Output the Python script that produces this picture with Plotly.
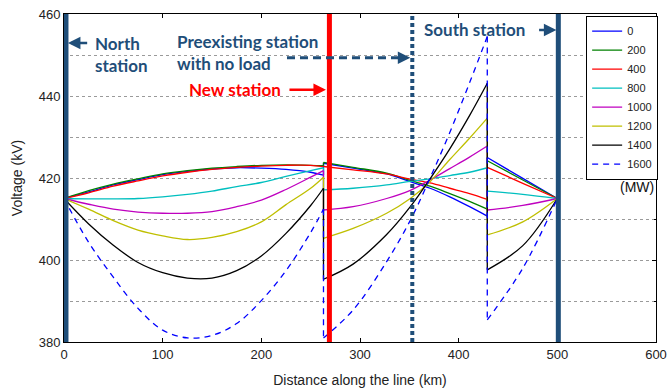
import plotly.graph_objects as go

# ---------------- data ----------------
SERIES_NAMES = ["0", "200", "400", "800", "1000", "1200", "1400", "1600"]

SEG1_KM = [0, 25, 50, 75, 100, 125, 150, 175, 200, 225, 250, 263]
SEG2_KM = [263, 293, 327, 351, 371, 391, 411, 429]
SEG3_KM = [429, 465, 500]

seg1_0 = [415, 416.6, 418.3, 419.6, 420.8, 421.6, 422.2, 422.5, 422.4, 422.1, 421.4, 420.7]
seg1_200 = [415, 416.9, 418.5, 419.8, 421.0, 421.8, 422.4, 422.8, 423.1, 423.2, 423.1, 423.0]
seg1_400 = [415, 416.4, 418.0, 419.3, 420.5, 421.4, 422.1, 422.6, 422.9, 423.1, 423.1, 422.8]
seg1_800 = [415, 414.9, 414.9, 415.0, 415.4, 416.0, 416.8, 417.9, 418.9, 420.4, 421.8, 422.5]
seg1_1000 = [415, 413.6, 412.4, 411.7, 411.4, 411.4, 411.8, 413.0, 414.6, 417.2, 420.2, 421.8]
seg1_1200 = [415, 412.4, 409.6, 407.3, 405.9, 405.0, 405.5, 406.9, 409.3, 413.5, 417.5, 420.2]
seg1_1400 = [415, 408.8, 403.6, 399.4, 396.9, 395.6, 395.6, 397.4, 401.0, 406.5, 413.3, 417.5]
seg1_1600 = [415, 404.3, 395.8, 388.2, 382.9, 381.0, 381.6, 384.5, 390.1, 397.4, 406.7, 412.4]

seg2_0 = [423.6, 422.4, 421.0, 419.1, 417.5, 415.4, 413.0, 410.7]
seg2_200 = [423.8, 422.6, 421.2, 419.4, 418.0, 416.2, 414.3, 412.4]
seg2_400 = [422.8, 422.0, 421.0, 419.7, 418.8, 417.5, 416.2, 414.8]
seg2_800 = [417.1, 417.5, 418.3, 419.2, 419.8, 420.6, 421.4, 422.5]
seg2_1000 = [412.2, 413.0, 415.0, 417.0, 419.5, 422.3, 425.1, 427.8]
seg2_1200 = [405.3, 407.7, 411.4, 415.0, 419.1, 424.5, 429.7, 434.6]
seg2_1400 = [395.3, 399.0, 406.2, 413.0, 419.8, 427.1, 435.2, 443.1]
seg2_1600 = [381.0, 387.8, 399.6, 409.7, 420.0, 431.1, 443.2, 454.5]

seg3_0 = [425.0, 419.9, 415]
seg3_200 = [424.2, 419.5, 415]
seg3_400 = [422.6, 418.7, 415]
seg3_800 = [416.8, 416.0, 415]
seg3_1000 = [412.2, 413.3, 415]
seg3_1200 = [406.1, 409.3, 415]
seg3_1400 = [397.6, 403.5, 415]
seg3_1600 = [385.4, 398.0, 415]

SEG1 = [seg1_0, seg1_200, seg1_400, seg1_800, seg1_1000, seg1_1200, seg1_1400, seg1_1600]
SEG2 = [seg2_0, seg2_200, seg2_400, seg2_800, seg2_1000, seg2_1200, seg2_1400, seg2_1600]
SEG3 = [seg3_0, seg3_200, seg3_400, seg3_800, seg3_1000, seg3_1200, seg3_1400, seg3_1600]

NORTH_KM = 2
NEW_KM = 269
PREEXIST_KM = 353
SOUTH_KM = 501

# ---------------- styles ----------------
COLORS = ["#0000ff", "#008000", "#ff0000", "#00bfbf", "#bf00bf", "#bfbf00", "#000000", "#0000ff"]
DASHES = ["solid"] * 7 + ["6px,5px"]
STATION = "#1f4e79"
FONT = "Liberation Sans, Arial, sans-serif"
AFONT = "Lato, Open Sans, sans-serif"

fig = go.Figure()

for i, name in enumerate(SERIES_NAMES):
    xs = SEG1_KM + [None] + SEG2_KM + [None] + SEG3_KM
    ys = SEG1[i] + [None] + SEG2[i] + [None] + SEG3[i]
    # vertical jumps at the compensating stations
    jx = [SEG1_KM[-1], SEG2_KM[0], None, SEG2_KM[-1], SEG3_KM[0]]
    jy = [SEG1[i][-1], SEG2[i][0], None, SEG2[i][-1], SEG3[i][0]]
    fig.add_trace(go.Scatter(
        x=jx, y=jy, mode="lines", legendgroup=name, showlegend=False,
        line=dict(color=COLORS[i], width=1.3, dash=DASHES[i]), hoverinfo="skip"))
    fig.add_trace(go.Scatter(
        x=xs, y=ys, mode="lines", name=name, legendgroup=name,
        line=dict(color=COLORS[i], width=1.3, dash=DASHES[i], shape="spline"),
        connectgaps=False))

# station lines
for xk, col, w, dash in [(NORTH_KM, STATION, 5, "solid"), (SOUTH_KM, STATION, 5, "solid"),
                         (NEW_KM, "#ff0000", 5, "solid"), (PREEXIST_KM, STATION, 4, "4px,3px")]:
    fig.add_shape(type="line", xref="x", yref="paper", x0=xk, x1=xk, y0=0, y1=1,
                  line=dict(color=col, width=w, dash=dash), layer="above")

# dashed arrow for preexisting station
fig.add_shape(type="line", xref="x", yref="y", x0=226, x1=344, y0=449.3, y1=449.3,
              line=dict(color=STATION, width=3, dash="8px,5px"), layer="above")

afont = dict(family=AFONT, size=17, color=STATION, weight="bold")
fig.add_annotation(x=29, y=450.2, xref="x", yref="y", text="North<br>station", showarrow=False,
                   xanchor="left", yanchor="middle", align="left", font=afont)
fig.add_annotation(x=112, y=450.6, xref="x", yref="y", text="Preexisting station<br>with no load",
                   showarrow=False, xanchor="left", yanchor="middle", align="left", font=afont)
fig.add_annotation(x=125, y=441.5, xref="x", yref="y", text="New station", showarrow=False,
                   xanchor="left", yanchor="middle", font=dict(family=AFONT, size=17, color="#ff0000", weight="bold"))
fig.add_annotation(x=363, y=456.1, xref="x", yref="y", text="South station", showarrow=False,
                   xanchor="left", yanchor="middle", font=afont)
fig.add_annotation(x=581, y=417.8, xref="x", yref="y", text="(MW)", showarrow=False,
                   xanchor="center", yanchor="middle", font=dict(family=FONT, size=14, color="#111"))

# arrows
arrows = [
    (4, 452.9, 25, 452.9, STATION),        # north
    (499, 456.1, 480, 456.1, STATION),     # south
    (265.5, 441.5, 227, 441.5, "#ff0000"), # new station
    (351, 449.3, 340, 449.3, STATION),     # preexisting head
]
for x, y, ax, ay, col in arrows:
    fig.add_annotation(x=x, y=y, ax=ax, ay=ay, xref="x", yref="y", axref="x", ayref="y",
                       text="", showarrow=True, arrowhead=2, arrowsize=1, arrowwidth=2.5,
                       arrowcolor=col)

fig.update_layout(
    width=669, height=392,
    margin=dict(l=64, r=13, t=14, b=50, autoexpand=False),
    plot_bgcolor="white", paper_bgcolor="white",
    font=dict(family=FONT, size=13, color="#222"),
    showlegend=True,
    legend=dict(x=0.882, y=0.995, xanchor="left", yanchor="top",
                bgcolor="white", bordercolor="black", borderwidth=1,
                font=dict(family=FONT, size=11, color="#222"),
                itemwidth=30, tracegroupgap=0),
    xaxis=dict(range=[0, 600], dtick=100, ticks="inside", ticklen=4, tickcolor="black",
               showline=True, linecolor="black", linewidth=1, mirror="ticks",
               showgrid=False, zeroline=False, automargin=False, ticklabeloverflow="allow",
               title=dict(text="Distance along the line (km)", font=dict(size=14), standoff=14)),
    yaxis=dict(range=[380, 460], dtick=20, ticks="inside", ticklen=4, tickcolor="black",
               showline=True, linecolor="black", linewidth=1, mirror="ticks",
               showgrid=True, gridcolor="#9a9a9a", griddash="dot", gridwidth=1, zeroline=False,
               automargin=False, ticklabeloverflow="allow",
               minor=dict(dtick=10, showgrid=True, gridcolor="#9a9a9a", griddash="dot",
                          ticks="inside", ticklen=2, tickcolor="black"),
               title=dict(text="Voltage (kV)", font=dict(size=14), standoff=12)),
)

# remove the default 8px page margin so the 669x392 figure fills the window exactly
fig.write_html("out.html", config={"displayModeBar": False},
               post_script="document.body.style.margin='0px';document.body.style.overflow='hidden';")
